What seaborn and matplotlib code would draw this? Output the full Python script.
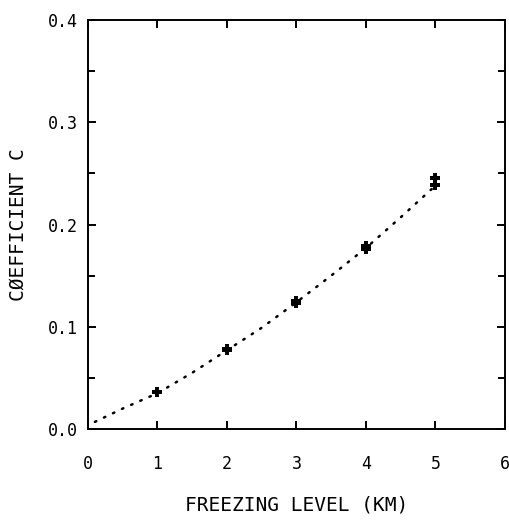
import matplotlib
matplotlib.use("Agg")
import matplotlib.pyplot as plt
import seaborn as sns
import pandas as pd
from matplotlib.ticker import MultipleLocator

# Measured points (two runs overlap at most levels)
freezing_level = [1, 1, 2, 2, 3, 3, 4, 4, 5, 5]
coefficient = [0.036, 0.036, 0.077, 0.078, 0.123, 0.125, 0.176, 0.179, 0.239, 0.245]

# Dotted fit curve
curve_x = [0.1, 0.5, 1.0, 1.5, 2.0, 2.5, 3.0, 3.5, 4.0, 4.5, 5.0]
curve_y = [0.007, 0.020, 0.035, 0.055, 0.077, 0.099, 0.124, 0.150, 0.177, 0.207, 0.238]

x_ticks = [0, 1, 2, 3, 4, 5, 6]
y_ticks = [0.0, 0.1, 0.2, 0.3, 0.4]
x_label = "FREEZING LEVEL (KM)"
y_label = "CØEFFICIENT C"

sns.set_theme(style="ticks")
plt.rcParams["font.family"] = ["DejaVu Sans Mono", "DejaVu Sans"]

fig = plt.figure(figsize=(5.1, 5.2), dpi=100)
ax = fig.add_axes([0.1725, 0.175, 0.8175, 0.7865])

pts = pd.DataFrame({"x": freezing_level, "y": coefficient})
cur = pd.DataFrame({"x": curve_x, "y": curve_y})

sns.lineplot(data=cur, x="x", y="y", ax=ax, color="black", linewidth=1.8,
             linestyle=(0, (0.6, 3.4)), dash_capstyle="round", sort=True)
sns.scatterplot(data=pts, x="x", y="y", ax=ax, color="black", marker="P",
                s=55, linewidth=0, zorder=3)

ax.set_xlim(0, 6)
ax.set_ylim(0, 0.4)
ax.set_xticks(x_ticks)
ax.set_xticklabels([str(t) for t in x_ticks])
ax.set_yticks(y_ticks)
ax.set_yticklabels([f"{t:.1f}" for t in y_ticks])
ax.yaxis.set_minor_locator(MultipleLocator(0.05))

for s in ax.spines.values():
    s.set_visible(True)
    s.set_linewidth(1.4)
    s.set_color("black")

ax.tick_params(axis="both", which="both", direction="in", top=True, right=True,
               color="black", width=1.4)
ax.tick_params(axis="both", which="major", length=5.5, labelsize=12, colors="black")
ax.tick_params(axis="y", which="minor", length=5)
ax.tick_params(axis="x", which="major", pad=19)
ax.tick_params(axis="y", which="major", pad=7)

ax.set_xlabel(x_label, fontsize=14, color="black", labelpad=16)
ax.set_ylabel(y_label, fontsize=14, color="black", labelpad=15)
ax.grid(False)

fig.savefig("out.png", dpi=100, facecolor="white")
